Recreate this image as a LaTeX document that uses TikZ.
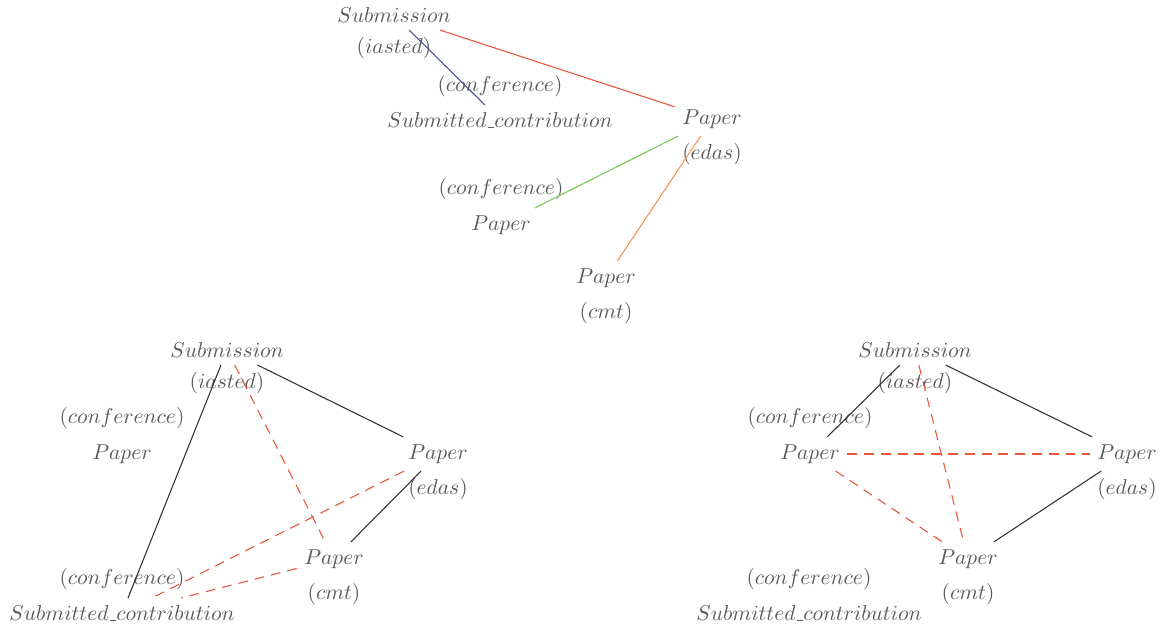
\documentclass[tikz,border=0pt]{standalone}
\usetikzlibrary{positioning}
\definecolor{edgeblue}{RGB}{72,80,160}
\definecolor{edgered}{RGB}{232,85,58}
\definecolor{edgegreen}{RGB}{120,200,94}
\definecolor{edgeorange}{RGB}{245,150,80}
\newcommand{\undsc}{\kern.06em\vbox{\hrule width.3em}}
\begin{document}
\begin{tikzpicture}[
    x=0.4645pt,y=-0.4645pt,
    every node/.style={text=black!65},
    every label/.style={text=black!65},
    solid link/.style={draw=black!80, line width=0.5pt},
    miss link/.style={draw=edgered, line width=0.5pt, dash pattern=on 4.6pt off 3.2pt},
    link/.style={line width=0.5pt}
]
    \useasboundingbox (0,0) rectangle (1163,625);

    % alignment
    \node[label={below:$(iasted)$}] (subA) at (394,15) {$Submission$};
    \node[label={above:$(conference)$}] (conA) at (500,120) {$Submitted\undsc contribution$};
    \node[label={below:$(edas)$}] (edaA) at (712,119) {$Paper$};
    \node[label={above:$(conference)$}] (papA) at (501,225) {$Paper$};
    \node[label={below:$(cmt)$}] (cmtA) at (606,278) {$Paper$};

    \draw[link, edgeblue] (subA) -- (conA);
    \draw[link, edgered] (subA) -- (edaA);
    \draw[link, edgegreen] (papA) -- (edaA);
    \draw[link, edgeorange] (cmtA) -- (edaA);

    % left result
    \node[label={below:$(iasted)$}] (subB) at (227,350) {$Submission$};
    \node[label={above:$(conference)$}] (papB) at (122,454) {$Paper$};
    \node[label={below:$(edas)$}] (edaB) at (438,454) {$Paper$};
    \node[label={below:$(cmt)$}] (cmtB) at (334,559) {$Paper$};
    \node[label={above:$(conference)$}] (conB) at (122,613) {$Submitted\undsc contribution$};

    \draw[solid link] (subB) -- (conB);
    \draw[solid link] (subB) -- (edaB);
    \draw[solid link] (edaB) -- (cmtB);
    \draw[miss link] (subB) -- (cmtB);
    \draw[miss link] (edaB) -- (conB);
    \draw[miss link] (cmtB) -- (conB);

    % right result
    \node[label={below:$(iasted)$}] (subC) at (915,350) {$Submission$};
    \node[label={above:$(conference)$}] (papC) at (810,454) {$Paper$};
    \node[label={below:$(edas)$}] (edaC) at (1127,454) {$Paper$};
    \node[label={below:$(cmt)$}] (cmtC) at (968,559) {$Paper$};
    \node[label={above:$(conference)$}] (conC) at (809,613) {$Submitted\undsc contribution$};

    \draw[solid link] (subC) -- (papC);
    \draw[solid link] (subC) -- (edaC);
    \draw[solid link] (edaC) -- (cmtC);
    \draw[miss link] (subC) -- (cmtC);
    \draw[miss link] (papC) -- (edaC);
    \draw[miss link] (papC) -- (cmtC);
\end{tikzpicture}
\end{document}
